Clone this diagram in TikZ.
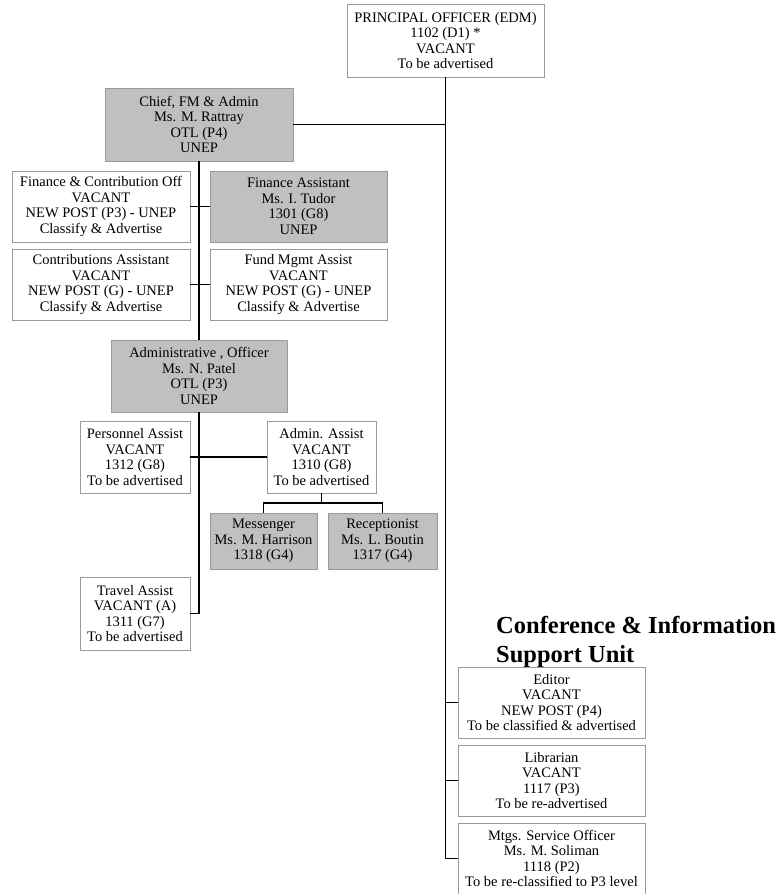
\documentclass[tikz,border=0pt]{standalone}
\usepackage{fontspec}
\setmainfont{Liberation Serif}
\definecolor{boxline}{HTML}{9A9A9A}
\definecolor{boxfill}{HTML}{C0C0C0}
\begin{document}
\begin{tikzpicture}[x=1pt,y=-1pt,
  wbox/.style={draw=boxline, line width=0.9pt, fill=white, inner sep=0pt, align=center,
    font=\fontsize{14.5}{15.5}\selectfont},
  gbox/.style={wbox, fill=boxfill},
  link/.style={draw=black, line width=1.2pt},
  titlefont/.style={font=\fontsize{24.5}{29}\selectfont\bfseries, inner sep=0pt}]
\useasboundingbox (0,0) rectangle (784,894);

\node[wbox, minimum width=197pt, minimum height=73pt] (po) at (445.5,40.5) {PRINCIPAL OFFICER (EDM)\\1102 (D1) *\\VACANT\\To be advertised};
\node[gbox, minimum width=188pt, minimum height=73pt] (chief) at (199,124.5) {Chief, FM \& Admin\\Ms. M. Rattray\\OTL (P4)\\UNEP};
\node[wbox, minimum width=178pt, minimum height=71pt] (fco) at (101,206.5) {Finance \& Contribution Off\\VACANT\\NEW POST (P3) - UNEP\\Classify \& Advertise};
\node[gbox, minimum width=177pt, minimum height=71pt] (fa) at (298.5,206.5) {Finance Assistant\\Ms. I. Tudor\\1301 (G8)\\UNEP};
\node[wbox, minimum width=178pt, minimum height=71pt] (ca) at (101,284.5) {Contributions Assistant\\VACANT\\NEW POST (G) - UNEP\\Classify \& Advertise};
\node[wbox, minimum width=177pt, minimum height=71pt] (fm) at (298.5,284.5) {Fund Mgmt Assist\\VACANT\\NEW POST (G) - UNEP\\Classify \& Advertise};
\node[gbox, minimum width=176pt, minimum height=72pt] (ao) at (199,376) {Administrative , Officer\\Ms. N. Patel\\OTL (P3)\\UNEP};
\node[wbox, minimum width=110pt, minimum height=72pt] (pa) at (135,457) {Personnel Assist\\VACANT\\1312 (G8)\\To be advertised};
\node[wbox, minimum width=109pt, minimum height=72pt] (aa) at (321.5,457) {Admin. Assist\\VACANT\\1310 (G8)\\To be advertised};
\node[gbox, minimum width=107pt, minimum height=56pt] (msg) at (263.5,541) {Messenger\\Ms. M. Harrison\\1318 (G4)};
\node[gbox, minimum width=109pt, minimum height=56pt] (rec) at (382.5,541) {Receptionist\\Ms. L. Boutin\\1317 (G4)};
\node[wbox, minimum width=110pt, minimum height=73pt] (ta) at (135,613.5) {Travel Assist\\VACANT (A)\\1311 (G7)\\To be advertised};

\node[titlefont, anchor=base west] (title1) at (496,633) {Conference \& Information};
\node[titlefont, anchor=base west] (title2) at (496,662) {Support Unit};

\node[wbox, minimum width=187pt, minimum height=71pt] (ed) at (551.5,702.5) {Editor\\VACANT\\NEW POST (P4)\\To be classified \& advertised};
\node[wbox, minimum width=187pt, minimum height=71pt] (lib) at (551.5,780.5) {Librarian\\VACANT\\1117 (P3)\\To be re-advertised};
\node[wbox, minimum width=187pt, minimum height=71pt] (mtg) at (551.5,858.5) {Mtgs. Service Officer\\Ms. M. Soliman\\1118 (P2)\\To be re-classified to P3 level};

\coordinate (bracket) at (321.5,503);

\draw[link] (po.south) -- (po.south |- mtg.west) -- (mtg.west);
\draw[link] (chief.east) -- (chief.east -| po.south);
\draw[link] (ed.west) -- (ed.west -| po.south);
\draw[link] (lib.west) -- (lib.west -| po.south);
\draw[link] (chief.south) -- (ao.north);
\draw[link] (fco.east) -- (fa.west);
\draw[link] (ca.east) -- (fm.west);
\draw[link] (ao.south) -- (ao.south |- ta.east) -- (ta.east);
\draw[link] (pa.east) -- (aa.west);
\draw[link] (aa.south) -- (bracket);
\draw[link] (msg.north) |- (bracket) -| (rec.north);
\end{tikzpicture}
\end{document}
